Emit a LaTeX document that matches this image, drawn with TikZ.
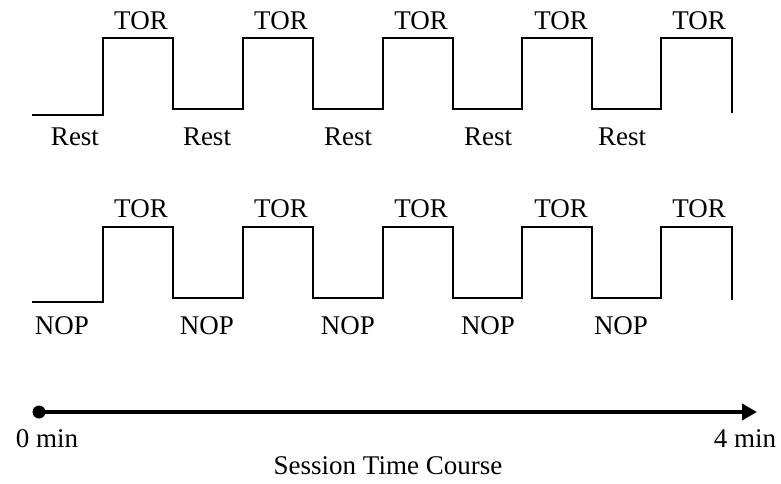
\documentclass[tikz,border=0pt]{standalone}
\usepackage{fontspec}
\setmainfont{Liberation Serif}
\usetikzlibrary{arrows.meta}
\begin{document}
\begin{tikzpicture}[x=1pt,y=-1pt,
  lbl/.style={inner sep=0pt,font=\fontsize{27}{27}\selectfont},
  wave/.style={line width=2.2pt,line join=miter},
  axis/.style={line width=4.5pt,-{Triangle[length=15pt,width=16pt]}}]
\useasboundingbox (0,0) rectangle (781,484);
% top row
\coordinate (t0) at (32,115);
\draw[wave] (t0) -- (103,115) -- (103,38) -- (173,38) -- (173,109) -- (243,109) -- (243,38) -- (313,38) -- (313,109) -- (383,109) -- (383,38) -- (453,38) -- (453,109) -- (522,109) -- (522,38) -- (592,38) -- (592,109) -- (661,109) -- (661,38) -- (732,38) -- (732,113);
\foreach \x/\n in {141/1,281/2,421/3,561/4,699/5}{\node[lbl] (tt\n) at (\x,21) {TOR};}
\foreach \x/\n in {75/1,207/2,348/3,488/4,622/5}{\node[lbl] (tr\n) at (\x,137) {Rest};}
% bottom row
\coordinate (b0) at (32,302);
\draw[wave] (b0) -- (103,302) -- (103,227) -- (173,227) -- (173,298) -- (243,298) -- (243,227) -- (313,227) -- (313,298) -- (383,298) -- (383,227) -- (453,227) -- (453,298) -- (522,298) -- (522,227) -- (592,227) -- (592,298) -- (661,298) -- (661,227) -- (732,227) -- (732,300);
\foreach \x/\n in {141/1,281/2,421/3,561/4,699/5}{\node[lbl] (bt\n) at (\x,209) {TOR};}
\foreach \x/\n in {62/1,207/2,348/3,488/4,621/5}{\node[lbl] (bn\n) at (\x,326) {NOP};}
% axis
\coordinate (a0) at (39,412);
\coordinate (a1) at (757,412);
\fill (a0) circle (6.5pt);
\draw[axis] (a0) -- (a1);
\node[lbl] (z0) at (47,439) {0 min};
\node[lbl] (z4) at (745,439) {4 min};
\node[lbl] (cap) at (388,466) {Session Time Course};
\end{tikzpicture}
\end{document}
